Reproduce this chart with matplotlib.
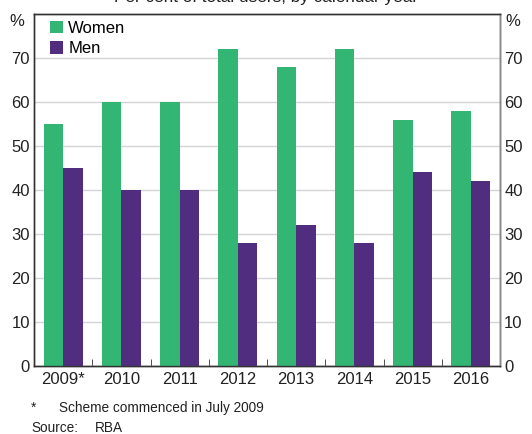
import matplotlib.pyplot as plt
import numpy as np

plt.rcParams['font.family'] = ['Liberation Sans', 'DejaVu Sans']

years = ['2009*', '2010', '2011', '2012', '2013', '2014', '2015', '2016']
women = [55, 60, 60, 72, 68, 72, 56, 58]
men = [45, 40, 40, 28, 32, 28, 44, 42]

green = '#33b574'
purple = '#502d7f'

fig = plt.figure(figsize=(5.32, 4.34), dpi=100)
ax = fig.add_axes([34 / 532, 1 - 366 / 434, 466 / 532, 352 / 434])

x = np.arange(len(years))
w = 0.335
ax.bar(x - w / 2, women, w, color=green, label='Women', zorder=3)
ax.bar(x + w / 2, men, w, color=purple, label='Men', zorder=3)

ax.set_xlim(-0.5, len(years) - 0.5)
ax.set_ylim(0, 80)
ax.set_yticks(range(0, 80, 10))
ax.yaxis.grid(True, color='#d4d4d4', linewidth=1, zorder=0)
ax.set_axisbelow(True)

ax.set_xticks(x)
ax.set_xticklabels(years)
ax.set_xticks(np.arange(0.5, len(years) - 0.5), minor=True)
ax.tick_params(axis='x', which='major', length=0, labelsize=12, pad=4, colors='#222222')
ax.tick_params(axis='x', which='minor', length=5, direction='in', color='#333333')
ax.tick_params(axis='y', length=0, labelsize=12, pad=3, colors='#222222')

ax2 = ax.twinx()
ax2.set_ylim(0, 80)
ax2.set_yticks(range(0, 80, 10))
ax2.tick_params(axis='y', length=0, labelsize=12, pad=3, colors='#222222')

for a in (ax, ax2):
    for s in a.spines.values():
        s.set_color('#333333')
        s.set_linewidth(1)
ax2.spines['right'].set_color('#888888')

ax.text(-0.02, 80, '%', transform=ax.get_yaxis_transform(), ha='right', va='top', fontsize=12, color='#222222')
ax.text(1.012, 80, '%', transform=ax.get_yaxis_transform(), ha='left', va='top', fontsize=12, color='#222222')

ax.legend(loc='upper left', frameon=False, fontsize=12, handlelength=0.8, handleheight=0.8,
          handletextpad=0.3, labelspacing=0.3, borderaxespad=0.0, bbox_to_anchor=(0.02, 1.0))

fig.text(0.5, 1.005, 'Per cent of total users, by calendar year', ha='center', va='center', fontsize=12.3, color='#222222')

fig.text(59 / 532, 1 - 408 / 434, 'Scheme commenced in July 2009', fontsize=9.8, va='center', color='#222222')
fig.text(31 / 532, 1 - 408 / 434, '*', fontsize=9.8, va='center', color='#222222')
fig.text(31 / 532, 1 - 428 / 434, 'Source:', fontsize=9.8, va='center', color='#222222')
fig.text(95 / 532, 1 - 428 / 434, 'RBA', fontsize=9.8, va='center', color='#222222')

fig.savefig('out.png', dpi=100)
